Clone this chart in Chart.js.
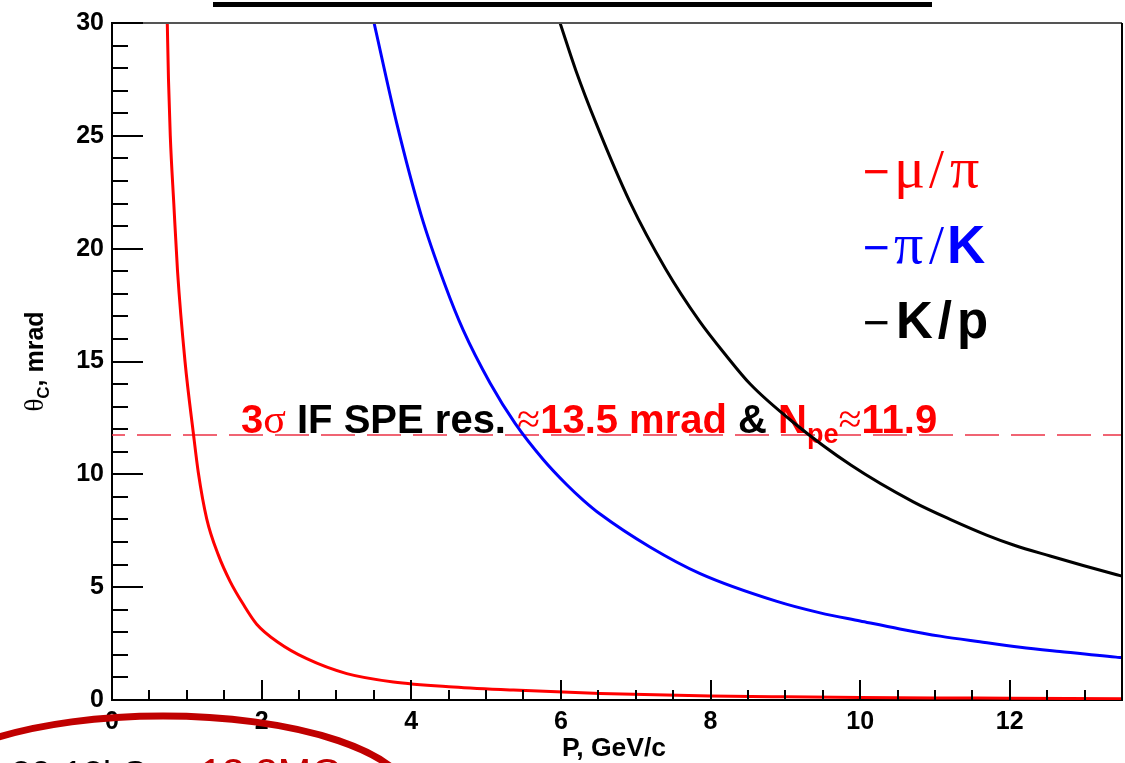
<!DOCTYPE html>
<html>
<head>
<meta charset="utf-8">
<script src="https://cdn.jsdelivr.net/npm/chart.js@4.4.1/dist/chart.umd.min.js"></script>
<style>
  html, body { margin: 0; padding: 0; background: #fff; overflow: hidden; }
  #wrap { width: 1125px; height: 763px; position: relative; }
</style>
</head>
<body>
<div id="wrap"><canvas id="c" width="1125" height="763"></canvas></div>
<script>
// Cherenkov angle difference (mrad) versus momentum (GeV/c) for particle pairs
const muPiMomentum = [0.739, 0.755, 0.779, 0.826, 0.876, 0.976, 1.087, 1.154, 1.266, 1.421, 1.578, 1.755, 1.934, 2.223, 2.603, 3.138, 3.761, 4.563, 5.365, 6.524, 8.0, 9.0, 10.0, 11.0, 12.0, 13.5];
const muPiAngle    = [30, 27.5, 25.0, 22.0, 19.0, 15.0, 11.83, 10.07, 8.03, 6.43, 5.26, 4.24, 3.36, 2.55, 1.83, 1.17, 0.80, 0.58, 0.44, 0.29, 0.18, 0.14, 0.11, 0.09, 0.08, 0.06];

const piKMomentum = [3.503, 3.806, 4.131, 4.45, 4.693, 5.053, 5.388, 5.766, 6.079, 6.301, 6.524, 7.19, 7.861, 8.877, 9.465, 10.0, 10.53, 11.07, 11.6, 12.14, 12.67, 13.42, 13.5];
const piKAngle    = [30, 25.55, 21.5, 18.4, 16.4, 14.05, 12.26, 10.65, 9.54, 8.85, 8.24, 6.78, 5.6, 4.38, 3.86, 3.5, 3.15, 2.83, 2.58, 2.34, 2.15, 1.9, 1.88];

const kpMomentum = [5.989, 6.2, 6.471, 6.925, 7.4, 7.85, 8.2, 8.53, 9.10, 9.88, 10.71, 11.24, 11.69, 12.05, 12.54, 12.98, 13.43, 13.5];
const kpAngle    = [30, 27.9, 25.55, 22.05, 19.1, 16.8, 15.3, 14.0, 12.32, 10.4, 8.78, 7.95, 7.31, 6.87, 6.38, 5.96, 5.55, 5.49];

// Separation threshold: n-sigma of single photo-electron resolution over sqrt(Npe)
const nSigma = 3;
const speResolution = 13.5;   // mrad
const photoElectrons = 11.9;
const thresholdAngle = nSigma * speResolution / Math.sqrt(photoElectrons);

const xRange = [0, 13.5];
const yRange = [0, 30];
const xMajorStep = 2, xMinorStep = 0.5;
const yMajorStep = 5, yMinorStep = 1;

const seriesNames = ['μ/π', 'π/K', 'K/p'];

function toPoints(xs, ys) { return xs.map((x, i) => ({ x: x, y: ys[i] })); }

const SANS = '"Liberation Sans", Arial, sans-serif';
const SERIF = '"Liberation Serif", "Times New Roman", serif';

// draw a sequence of differently styled text pieces
function drawRuns(ctx, x, y, runs) {
  let cx = x;
  for (const r of runs) {
    if (r.at !== undefined) cx = r.at;
    ctx.font = r.font;
    ctx.fillStyle = r.color;
    ctx.letterSpacing = r.ls || '0px';
    ctx.fillText(r.t, cx, y + (r.dy || 0));
    cx += ctx.measureText(r.t).width + (r.gap || 0);
  }
  ctx.letterSpacing = '0px';
  return cx;
}

const decorations = {
  id: 'decorations',
  beforeDatasetsDraw(chart) {
    const ctx = chart.ctx;
    const ys = chart.scales.y;
    const area = chart.chartArea;
    ctx.save();
    // dashed threshold line
    const yLine = ys.getPixelForValue(thresholdAngle);
    ctx.strokeStyle = 'rgb(236,50,70)';
    ctx.lineWidth = 1.6;
    ctx.setLineDash([34, 12]);
    ctx.lineDashOffset = 21;
    ctx.beginPath();
    ctx.moveTo(area.left, yLine);
    ctx.lineTo(area.right, yLine);
    ctx.stroke();
    ctx.setLineDash([]);

    // annotation text above the threshold line
    ctx.textBaseline = 'alphabetic';
    ctx.textAlign = 'left';
    const F = 40;
    const red = '#ff0000', black = '#000000';
    const bold = 'bold ' + F + 'px ' + SANS;
    const sym = (F + 2) + 'px ' + SERIF;
    const base = yLine - 2;
    drawRuns(ctx, 241, base, [
      { t: '3', font: bold, color: red },
      { t: 'σ', font: sym, color: red },
      { t: ' IF SPE res. ', font: bold, color: black },
      { t: '≈', font: sym, color: red },
      { t: speResolution.toFixed(1) + ' mrad', font: bold, color: red },
      { t: ' & ', font: bold, color: black },
      { t: 'N', font: bold, color: red },
      { t: 'pe', font: 'bold 27px ' + SANS, color: red, dy: 10 },
      { t: '≈', font: sym, color: red },
      { t: photoElectrons.toFixed(1), font: bold, color: red }
    ]);
    ctx.restore();
  },
  afterDraw(chart) {
    const ctx = chart.ctx;
    const xs = chart.scales.x, ys = chart.scales.y;
    const area = chart.chartArea;
    ctx.save();

    // frame: top (grey) and right (black)
    ctx.lineWidth = 2;
    ctx.strokeStyle = '#555';
    ctx.beginPath();
    ctx.moveTo(area.left, area.top);
    ctx.lineTo(area.right, area.top);
    ctx.stroke();
    ctx.strokeStyle = '#000';
    ctx.beginPath();
    ctx.moveTo(area.right, area.top);
    ctx.lineTo(area.right, area.bottom);
    ctx.stroke();

    // inward tick marks
    ctx.lineWidth = 2;
    ctx.strokeStyle = '#000';
    ctx.beginPath();
    for (let v = xRange[0]; v <= xRange[1] + 1e-9; v += xMinorStep) {
      const px = Math.round(xs.getPixelForValue(v));
      const major = Math.abs(v / xMajorStep - Math.round(v / xMajorStep)) < 1e-6;
      const len = major ? 20 : 10;
      ctx.moveTo(px, area.bottom);
      ctx.lineTo(px, area.bottom - len);
    }
    for (let v = yRange[0]; v <= yRange[1] + 1e-9; v += yMinorStep) {
      const py = Math.round(ys.getPixelForValue(v));
      const major = Math.abs(v / yMajorStep - Math.round(v / yMajorStep)) < 1e-6;
      const len = major ? 31 : 16;
      ctx.moveTo(area.left, py);
      ctx.lineTo(area.left + len, py);
    }
    ctx.stroke();

    // axis titles
    ctx.fillStyle = '#000';
    ctx.textBaseline = 'alphabetic';
    ctx.textAlign = 'center';
    ctx.font = 'bold 26.5px ' + SANS;
    ctx.fillText('P, GeV/c', (area.left + area.right) / 2 - 3, 756);

    ctx.save();
    ctx.translate(43, (area.top + area.bottom) / 2);
    ctx.rotate(-Math.PI / 2);
    ctx.textAlign = 'left';
    const runsY = [
      { t: 'θ', font: '27px ' + SERIF, color: '#000' },
      { t: 'C', font: 'bold 17px ' + SANS, color: '#000', dy: 6 },
      { t: ', mrad', font: 'bold 25px ' + SANS, color: '#000' }
    ];
    let w = 0;
    for (const r of runsY) { ctx.font = r.font; w += ctx.measureText(r.t).width; }
    drawRuns(ctx, -w / 2, 0, runsY);
    ctx.restore();

    // legend
    ctx.textAlign = 'left';
    const lb = 'bold 51px ' + SANS;
    const lg = '58px ' + SERIF;
    const ls = '54px ' + SERIF;
    const dash = '46px ' + SANS;
    drawRuns(ctx, 863, 187, [
      { t: '−', font: dash, color: '#ff0000' },
      { t: 'μ', font: lg, color: '#ff0000', at: 894 },
      { t: '/', font: ls, color: '#ff0000', at: 929 },
      { t: 'π', font: lg, color: '#ff0000', at: 950 }
    ]);
    drawRuns(ctx, 863, 263, [
      { t: '−', font: dash, color: '#0000ff' },
      { t: 'π', font: lg, color: '#0000ff', at: 894 },
      { t: '/', font: ls, color: '#0000ff', at: 929 },
      { t: 'K', font: 'bold 53px ' + SANS, color: '#0000ff', at: 947 }
    ]);
    drawRuns(ctx, 863, 338, [
      { t: '−', font: dash, color: '#000000' },
      { t: 'K/p', font: lb, color: '#000000', ls: '5px', at: 896 }
    ]);

    // title underline at the top edge
    ctx.fillStyle = '#000';
    ctx.fillRect(213, 2, 719, 5);

    // highlighted note in the lower left corner
    ctx.strokeStyle = '#c00000';
    ctx.lineWidth = 7;
    ctx.beginPath();
    ctx.ellipse(163, 800, 248, 84, 0, 0, Math.PI * 2);
    ctx.stroke();
    ctx.font = '36px ' + SANS;
    ctx.textAlign = 'right';
    ctx.fillStyle = '#000';
    ctx.fillText('20-12kGs <', 198, 787);
    ctx.textAlign = 'left';
    ctx.font = '40px ' + SANS;
    ctx.fillStyle = '#c00000';
    ctx.fillText('13.3MG', 200, 787);

    ctx.restore();
  }
};

const lineStyle = { showLine: true, pointRadius: 0, borderWidth: 3, fill: false, cubicInterpolationMode: 'monotone' };

new Chart(document.getElementById('c'), {
  type: 'scatter',
  data: {
    datasets: [
      Object.assign({ label: seriesNames[0], data: toPoints(muPiMomentum, muPiAngle), borderColor: '#ff0000' }, lineStyle),
      Object.assign({ label: seriesNames[1], data: toPoints(piKMomentum, piKAngle), borderColor: '#0000ff' }, lineStyle),
      Object.assign({ label: seriesNames[2], data: toPoints(kpMomentum, kpAngle), borderColor: '#000000' }, lineStyle)
    ]
  },
  options: {
    responsive: false,
    animation: false,
    devicePixelRatio: 1,
    layout: { padding: { left: 0, top: 15, right: 3, bottom: 0 } },
    plugins: { legend: { display: false }, title: { display: false }, tooltip: { enabled: false } },
    scales: {
      x: {
        type: 'linear',
        min: xRange[0], max: xRange[1],
        afterFit(s) { s.height = 63; },
        border: { display: true, color: '#000', width: 2 },
        grid: { display: true, drawOnChartArea: false, drawTicks: false },
        ticks: {
          stepSize: xMajorStep, includeBounds: false, padding: 7, color: '#000',
          font: { family: SANS, size: 25, weight: 'bold' }, maxRotation: 0, autoSkip: false
        }
      },
      y: {
        type: 'linear',
        min: yRange[0], max: yRange[1],
        afterFit(s) { s.width = 112; },
        border: { display: true, color: '#000', width: 2 },
        grid: { display: true, drawOnChartArea: false, drawTicks: false },
        ticks: {
          stepSize: yMajorStep, includeBounds: false, padding: 8, color: '#000',
          font: { family: SANS, size: 25, weight: 'bold' }
        }
      }
    }
  },
  plugins: [decorations]
});
</script>
</body>
</html>
